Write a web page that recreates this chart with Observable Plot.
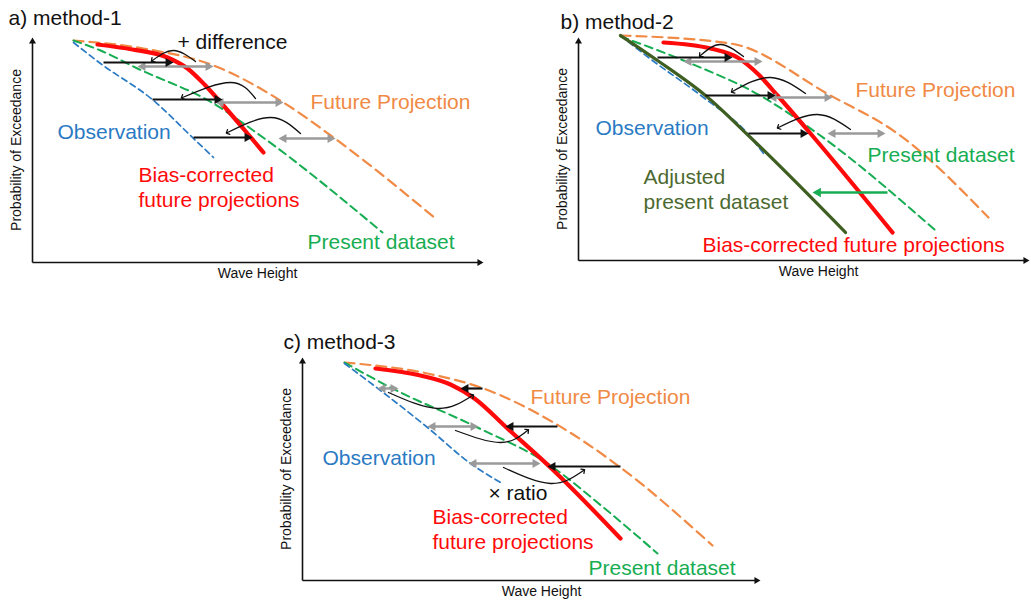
<!DOCTYPE html>
<html>
<head>
<meta charset="utf-8">
<script src="https://cdn.jsdelivr.net/npm/d3@7"></script>
<script src="https://cdn.jsdelivr.net/npm/@observablehq/plot@0.6"></script>
<style>
  html, body { margin: 0; padding: 0; background: #fff; }
  body { width: 1031px; height: 601px; position: relative; overflow: hidden; }
  .panel { position: absolute; }
  .panel svg { overflow: visible; background: transparent; }
</style>
</head>
<body>
<div id="panel-a" class="panel" style="left:0px; top:0px;"></div>
<div id="panel-b" class="panel" style="left:530px; top:0px;"></div>
<div id="panel-c" class="panel" style="left:270px; top:320px;"></div>
<script>
// Schematic exceedance curves: [wave height, probability of exceedance] in arbitrary units.

// ---- method-1: add the (future − present) difference to the observations ----
const m1Observation = [[41,220],[68,199],[121,162],[160,125],[181,105]];
const m1Present     = [[41,222],[68,212],[105,194],[181,159],[225,129],[350,30]];
const m1Future      = [[41,222],[111,214],[181,197],[251,160],[301,125],[403,44]];
const m1Corrected   = [[65,218],[100,213],[135,205],[155,194],[172,178],[190,158],[215,129],[231,110]];
const m1Shift       = [[71,141,200],[120,190,163],[161,220,125]];   // [from, to, level]
const m1Difference  = [[105,181,196],[183,251,160],[246,303,124]];
const m1Transfer    = [
  [[163,201],[141,212],[120,202]],
  [[223,164],[198,180],[150,165]],
  [[268,129],[238,145],[195,130]]
];

// ---- method-2: adjust the present dataset first, then add the difference ----
const m2Observation = [[42,225],[70,203],[125,163],[169,127],[185,107]];
const m2Adjusted    = [[42,225],[79,200],[127,165],[172,123],[267,28]];
const m2Present     = [[42,224],[105,200],[185,163],[239,127],[357,30]];
const m2Future      = [[42,225],[152,217],[252,165],[319,127],[410,43]];
const m2Corrected   = [[85,218],[132,212],[159,203],[180,186],[199,165],[232,127],[314,28]];
const m2Shift       = [[79,154,203],[127,197,165],[170,230,127]];
const m2Difference  = [[105,184,199],[190,254,163],[249,307,127]];
const m2Adjust      = [[309,234,68]];
const m2Transfer    = [
  [[165,204],[142,216],[122,205]],
  [[227,167],[192,183],[154,169]],
  [[272,131],[239,146],[200,133]]
];

// ---- method-3: scale the future projection by the observation/present ratio ----
const m3Observation = [[42,217],[78,190],[125,153],[168,117],[198,98]];
const m3Present     = [[42,218],[88,193],[175,153],[245,117],[301,73],[355,27]];
const m3Future      = [[42,218],[125,207],[181,192],[251,158],[318,113],[410,35]];
const m3Corrected   = [[73,212],[118,205],[148,196],[172,182],[205,152],[249,112],[318,42]];
const m3Shift       = [[180,158,192],[255,203,154],[318,245,114]];
const m3Ratio       = [[75,96,192],[125,176,154],[166,238,117]];
const m3Transfer    = [
  [[86,188],[135,172],[170,185]],
  [[153,150],[198,138],[225,150]],
  [[201,113],[248,97],[281,110]]
];

const C = {
  blue: "#2a7ac4",
  orange: "#f08a45",
  green: "#17ad52",
  dark: "#3f5f22",
  darkText: "#4c6a30",
  red: "#ff0a0a",
  gray: "#9a9a9a",
  black: "#111111"
};
const FONT = '"Liberation Sans", Arial, Helvetica, sans-serif';
const K = 1.555; // apex distance of the triangle symbol, in units of r

function arrows(list, color, width, r, both) {
  const shafts = [], tips = [];
  for (const [xa, xb, y] of list) {
    const dir = Math.sign(xb - xa), back = K * r;
    shafts.push({x1: both ? xa + dir * back : xa, x2: xb - dir * back, y});
    tips.push({x: xb - dir * back, y, rot: dir > 0 ? 90 : -90});
    if (both) tips.push({x: xa + dir * back, y, rot: dir > 0 ? -90 : 90});
  }
  return [
    Plot.link(shafts, {x1: "x1", x2: "x2", y1: "y", y2: "y", stroke: color, strokeWidth: width}),
    Plot.dot(tips, {x: "x", y: "y", r, symbol: "triangle", fill: color, stroke: "none", rotate: "rot"})
  ];
}

function curve(pts, opts) {
  return Plot.line(pts, {x: d => d[0], y: d => d[1], curve: "monotone-x", fill: "none", ...opts});
}

function transfer(arcs) {
  const rows = arcs.flatMap((pts, i) => pts.map(([x, y]) => ({x, y, i})));
  return Plot.line(rows, {x: "x", y: "y", z: "i", curve: "natural", stroke: C.black,
    strokeWidth: 1.3, markerEnd: "arrow"});
}

function axes(xMax, yMax) {
  const r = 2.6, back = K * r;
  return [
    Plot.link([{x1: 0, y1: 0, x2: 0, y2: yMax - back}, {x1: 0, y1: 0, x2: xMax - back, y2: 0}],
      {x1: "x1", y1: "y1", x2: "x2", y2: "y2", stroke: C.black, strokeWidth: 1.6}),
    Plot.dot([{x: 0, y: yMax - back, rot: 0}, {x: xMax - back, y: 0, rot: 90}],
      {x: "x", y: "y", r, symbol: "triangle", fill: C.black, stroke: "none", rotate: "rot"})
  ];
}

function panel(el, cfg) {
  const {width, height, ox, oy, xEnd, yTop} = cfg;
  const xMax = xEnd - ox, yMax = oy - yTop;
  const marks = [
    ...axes(xMax, yMax),
    ...cfg.marks,
    Plot.text(cfg.labels, {x: "x", y: "y", text: "text", fill: "color", fontSize: 21,
      textAnchor: "start", fontFamily: FONT}),
    Plot.text([cfg.title], {x: "x", y: "y", text: "text", fill: C.black, fontSize: 21,
      textAnchor: "start", fontFamily: FONT}),
    Plot.text([{text: "Probability of Exceedance", x: cfg.yLabelX, y: yMax / 2}],
      {x: "x", y: "y", text: "text", rotate: -90, fontSize: 14, fill: C.black, fontFamily: FONT}),
    Plot.text([{text: "Wave Height", x: cfg.xLabelX, y: -11}],
      {x: "x", y: "y", text: "text", fontSize: 14, fill: C.black, fontFamily: FONT})
  ];
  const svg = Plot.plot({
    width, height,
    marginLeft: ox, marginRight: width - xEnd, marginTop: yTop, marginBottom: height - oy,
    x: {domain: [0, xMax], axis: null},
    y: {domain: [0, yMax], axis: null},
    color: {type: "identity"},
    style: {overflow: "visible", background: "transparent", fontFamily: FONT},
    marks
  });
  document.getElementById(el).appendChild(svg);
}

const dashFuture = {stroke: C.orange, strokeWidth: 2.2, strokeDasharray: "10,6"};
const dashPresent = {stroke: C.green, strokeWidth: 2, strokeDasharray: "8,5"};
const dashObs = {stroke: C.blue, strokeWidth: 1.7, strokeDasharray: "6,4"};
const solidRed = {stroke: C.red, strokeWidth: 4.2};

panel("panel-a", {
  width: 500, height: 290, ox: 32, oy: 262, xEnd: 483, yTop: 37,
  yLabelX: -16, xLabelX: 225,
  title: {text: "a) method-1", x: -24, y: 244},
  marks: [
    curve(m1Future, dashFuture),
    curve(m1Present, dashPresent),
    curve(m1Observation, dashObs),
    curve(m1Corrected, solidRed),
    ...arrows(m1Difference, C.gray, 2.4, 3.4, true),
    ...arrows(m1Shift, C.black, 2.2, 3.4, false),
    transfer(m1Transfer)
  ],
  labels: [
    {text: "+ difference", x: 145, y: 220, color: C.black},
    {text: "Future Projection", x: 278, y: 160, color: C.orange},
    {text: "Observation", x: 25, y: 130, color: C.blue},
    {text: "Bias-corrected", x: 106, y: 87, color: C.red},
    {text: "future projections", x: 106, y: 62, color: C.red},
    {text: "Present dataset", x: 275, y: 20, color: C.green}
  ]
});

panel("panel-b", {
  width: 501, height: 290, ox: 48, oy: 260, xEnd: 499, yTop: 37,
  yLabelX: -16, xLabelX: 240,
  title: {text: "b) method-2", x: -18, y: 238},
  marks: [
    curve(m2Future, dashFuture),
    curve(m2Present, dashPresent),
    curve(m2Observation, dashObs),
    curve(m2Adjusted, {stroke: C.dark, strokeWidth: 3.2}),
    curve(m2Corrected, solidRed),
    ...arrows(m2Difference, C.gray, 2.4, 3.4, true),
    ...arrows(m2Shift, C.black, 2.2, 3.4, false),
    ...arrows(m2Adjust, C.green, 2.6, 3.6, false),
    transfer(m2Transfer)
  ],
  labels: [
    {text: "Future Projection", x: 277, y: 170, color: C.orange},
    {text: "Observation", x: 17, y: 132, color: C.blue},
    {text: "Present dataset", x: 289, y: 105, color: C.green},
    {text: "Adjusted", x: 65, y: 83, color: C.darkText},
    {text: "present dataset", x: 65, y: 58, color: C.darkText},
    {text: "Bias-corrected future projections", x: 124, y: 15, color: C.red}
  ]
});

panel("panel-c", {
  width: 500, height: 281, ox: 32, oy: 260, xEnd: 490, yTop: 37,
  yLabelX: -16, xLabelX: 239,
  title: {text: "c) method-3", x: -19, y: 238},
  marks: [
    curve(m3Future, dashFuture),
    curve(m3Present, dashPresent),
    curve(m3Observation, dashObs),
    curve(m3Corrected, solidRed),
    ...arrows(m3Ratio, C.gray, 2.4, 3.4, true),
    ...arrows(m3Shift, C.black, 2.2, 3.4, false),
    transfer(m3Transfer)
  ],
  labels: [
    {text: "Future Projection", x: 228, y: 183, color: C.orange},
    {text: "Observation", x: 20, y: 122, color: C.blue},
    {text: "× ratio", x: 186, y: 87, color: C.black},
    {text: "Bias-corrected", x: 130, y: 63, color: C.red},
    {text: "future projections", x: 130, y: 38, color: C.red},
    {text: "Present dataset", x: 286, y: 12, color: C.green}
  ]
});
</script>
</body>
</html>
